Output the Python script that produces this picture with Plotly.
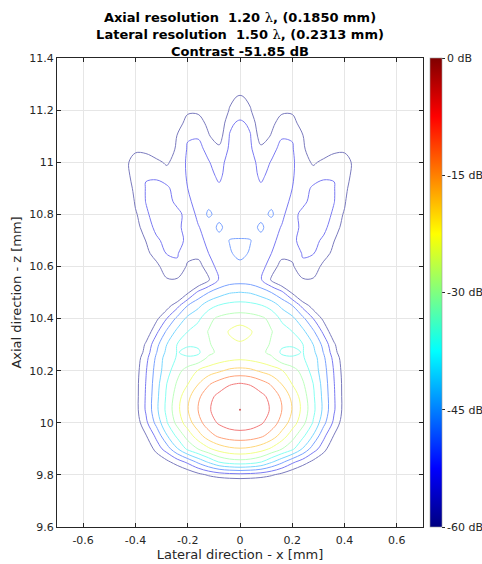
import numpy as np
import plotly.graph_objects as go

# Lateral sample positions (mm) for the right half; the field is mirrored about x = 0
x_half = [0.0, 0.04, 0.08, 0.12, 0.16, 0.20, 0.24, 0.28, 0.32, 0.36, 0.40, 0.44, 0.48]

# Axial sample positions (mm)
z_rows = [9.70, 9.75, 9.80, 9.85, 9.90, 9.95, 10.00, 10.05, 10.10, 10.15, 10.20,
          10.25, 10.27, 10.30, 10.35, 10.40, 10.45, 10.50, 10.55, 10.60, 10.65,
          10.70, 10.75, 10.80, 10.85, 10.90, 10.95, 11.00, 11.05, 11.10, 11.15,
          11.20, 11.25, 11.30]

# Normalised beam amplitude in dB, one row per axial position (right half)
db_half = [
    [-70, -70, -70, -70, -70, -70, -70, -70, -70, -70, -70, -70, -70],
    [-70, -70, -70, -70, -70, -70, -70, -70, -70, -70, -70, -70, -70],
    [-56, -56.5, -57.5, -59.3, -62, -65, -68, -70, -70, -70, -70, -70, -70],
    [-32.2, -33, -35.5, -41, -46.5, -52.5, -57, -61.5, -66, -70, -70, -70, -70],
    [-18.5, -19.2, -21.3, -25, -29.8, -34.5, -42.5, -51, -57.5, -66, -70, -70, -70],
    [-8.5, -9.0, -10.8, -14.5, -20.5, -27.5, -34.5, -42.5, -52.5, -60.5, -68, -70, -70],
    [-2.5, -3.2, -5.2, -8.8, -14.2, -20.8, -28, -36.5, -46.2, -55.5, -64, -70, -70],
    [-0.1, -0.8, -3.0, -6.75, -11.8, -18.3, -25.7, -34.4, -43.5, -53.3, -62.5, -70, -70],
    [-1.1, -1.9, -4.3, -7.8, -13.2, -19.6, -26.8, -35, -43.8, -53.4, -62.5, -70, -70],
    [-5.7, -6.6, -9.3, -12.8, -18.3, -24.3, -29.2, -36, -44.5, -53.8, -62.5, -70, -70],
    [-16, -16.7, -19, -21.2, -23.6, -27.5, -32, -38.5, -45.5, -54.5, -63, -70, -70],
    [-25.5, -26.2, -27.3, -29, -34.5, -35.5, -35.5, -39, -47, -56, -64, -70, -70],
    [-26.5, -27, -28.7, -31.5, -37, -37.2, -35.7, -40.5, -48.3, -57.5, -66, -70, -70],
    [-25, -25.5, -27.5, -30.7, -35, -35.5, -35.8, -42, -49.8, -59, -67, -70, -70],
    [-21, -23.4, -27.5, -29.7, -33, -36, -40.5, -47, -55.5, -64.5, -70, -70, -70],
    [-27, -27.5, -28.8, -31.5, -37.3, -40.5, -46.5, -54, -61.5, -70, -70, -70, -70],
    [-33.7, -34.2, -35.6, -38.5, -43.5, -48, -56, -63, -70, -70, -70, -70, -70],
    [-41.8, -42.5, -45, -48, -52.5, -61, -70, -70, -70, -70, -70, -70, -70],
    [-51, -51.5, -53.5, -61, -68, -66, -60.5, -60.5, -68, -70, -70, -70, -70],
    [-49.5, -51, -52.5, -56, -63, -61, -55, -56, -62, -70, -70, -70, -70],
    [-46.5, -48.6, -51.5, -54, -57.5, -58, -53.5, -53.8, -57, -62, -70, -70, -70],
    [-47.5, -47.8, -50.5, -52.8, -55.5, -55, -52.5, -52.3, -55, -59.8, -66, -70, -70],
    [-51, -51, -46.5, -52, -54.3, -56.5, -52.5, -51.5, -52.5, -57, -62.5, -70, -70],
    [-51, -51, -50.5, -46.8, -53, -56.5, -52, -51, -51.5, -55, -61, -70, -70],
    [-51, -51, -51, -50, -52, -55, -55.8, -51.5, -51.5, -53.8, -58.8, -70, -70],
    [-51, -51.5, -53.2, -52.5, -52, -54, -56.5, -53, -51.8, -53.8, -57.5, -66, -70],
    [-51, -51.8, -55, -52.5, -52, -53.5, -56.5, -57, -55.2, -54.2, -56.5, -63, -70],
    [-51.5, -52.5, -55.5, -53.8, -52.5, -53.2, -57, -61, -58.5, -57, -57.5, -61.5, -70],
    [-52, -53.2, -58.5, -55, -53, -53.5, -58.5, -65, -64, -61.5, -61, -64, -70],
    [-52.5, -53.8, -63, -59.5, -54.3, -54.4, -59.5, -70, -70, -70, -70, -70, -70],
    [-53.2, -54.8, -66, -61.5, -57.5, -57.5, -63, -70, -70, -70, -70, -70, -70],
    [-56.5, -59.3, -70, -67, -61.2, -61.2, -70, -70, -70, -70, -70, -70, -70],
    [-58.5, -62.5, -70, -70, -70, -70, -70, -70, -70, -70, -70, -70, -70],
    [-70, -70, -70, -70, -70, -70, -70, -70, -70, -70, -70, -70, -70],
]

# Contour levels and colour axis (dB)
level_min, level_max, level_step = -60, 0, 6
cbar_vals = [-60, -45, -30, -15, 0]
cbar_text = ["-60 dB", "-45 dB", "-30 dB", "-15 dB", "0 dB"]

x_ticks = [-0.6, -0.4, -0.2, 0, 0.2, 0.4, 0.6]
x_tick_text = ["-0.6", "-0.4", "-0.2", "0", "0.2", "0.4", "0.6"]
z_ticks = [9.6, 9.8, 10.0, 10.2, 10.4, 10.6, 10.8, 11.0, 11.2, 11.4]
z_tick_text = ["9.6", "9.8", "10", "10.2", "10.4", "10.6", "10.8", "11", "11.2", "11.4"]

title_lines = [
    "Axial resolution \u00a01.20 {lam}, (0.1850 mm)",
    "Lateral resolution \u00a01.50 {lam}, (0.2313 mm)",
    "Contrast -51.85 dB",
]

# Mirror the half field to cover the full lateral aperture
x_full = [-v for v in x_half[:0:-1]] + x_half
db_full = np.array([row[:0:-1] + row for row in db_half], dtype=float)

# MATLAB-style jet colour map
jet_stops = [(0.0, (0, 0, 0.5)), (0.125, (0, 0, 1)), (0.375, (0, 1, 1)),
             (0.625, (1, 1, 0)), (0.875, (1, 0, 0)), (1.0, (0.5, 0, 0))]


def to_scale(stops, wash=0.0):
    out = []
    for pos, (r, g, b) in stops:
        r, g, b = [c * (1 - wash) + wash for c in (r, g, b)]
        out.append([pos, f"rgb({round(r*255)},{round(g*255)},{round(b*255)})"])
    return out


jet = to_scale(jet_stops)
jet_lines = to_scale(jet_stops, wash=0.48)

# Plot area in pixels
PL, PR, PT, PB = 57, 423, 58, 527
W, H = 482, 564

fig = go.Figure()

fig.add_trace(go.Contour(
    x=x_full, y=z_rows, z=db_full,
    zmin=level_min, zmax=level_max,
    autocontour=False,
    contours=dict(start=level_min, end=level_max, size=level_step, coloring="lines"),
    colorscale=jet_lines,
    line=dict(width=1, smoothing=1.0),
    showscale=False,
    hoverinfo="skip",
))

# Peak of the beam
iz, ix = np.unravel_index(np.argmax(db_full), db_full.shape)
fig.add_trace(go.Scatter(
    x=[x_full[ix]], y=[z_rows[iz]], mode="markers",
    marker=dict(size=2, color="rgb(210,90,90)"),
    hoverinfo="skip", showlegend=False,
))

# Colour bar
fig.add_trace(go.Scatter(
    x=[None], y=[None], mode="markers",
    marker=dict(color=[level_min], cmin=level_min, cmax=level_max, colorscale=jet,
                showscale=True,
                colorbar=dict(
                    x=(430 - PL) / (PR - PL), xanchor="left", xpad=0,
                    y=0.5, yanchor="middle", ypad=0, len=1, lenmode="fraction",
                    thickness=12, outlinewidth=0.6, outlinecolor="#9a9a9a",
                    tickvals=cbar_vals, ticktext=cbar_text,
                    ticks="outside", ticklen=3, tickcolor="#262626",
                    tickfont=dict(family="DejaVu Sans", size=11, color="#262626"),
                )),
    hoverinfo="skip", showlegend=False,
))

lam = '<span style="font-family:DejaVu Serif;font-weight:normal">\u03bb</span>'
title_text = "<br>".join(t.format(lam=lam) for t in title_lines)

axis_common = dict(
    showgrid=True, gridcolor="#e6e6e6", gridwidth=1,
    showline=True, linecolor="#262626", linewidth=1, mirror="ticks",
    ticks="inside", ticklen=4, tickcolor="#262626",
    tickfont=dict(family="DejaVu Sans", size=11, color="#262626"),
    zeroline=False, automargin=False,
)

fig.update_layout(
    width=W, height=H,
    margin=dict(l=PL, r=W - PR, t=PT, b=H - PB, autoexpand=False),
    paper_bgcolor="white", plot_bgcolor="white",
    showlegend=False,
    font=dict(family="DejaVu Sans", color="#262626"),
    title=dict(
        text=title_text, x=(PL + PR) / 2 / W, xanchor="center",
        yref="container", y=1 - 22 / H, yanchor="middle",
        font=dict(family="DejaVu Sans", size=13, color="black", weight="bold"),
    ),
    xaxis=dict(
        range=[-0.7, 0.7], tickvals=x_ticks, ticktext=x_tick_text,
        title=dict(text="Lateral direction - x [mm]", standoff=3,
                   font=dict(family="DejaVu Sans", size=13, color="#262626")),
        ticklabelstandoff=3,
        **axis_common,
    ),
    yaxis=dict(
        range=[9.6, 11.4], tickvals=z_ticks, ticktext=z_tick_text,
        title=dict(text="Axial direction - z [mm]", standoff=4,
                   font=dict(family="DejaVu Sans", size=13, color="#262626")),
        **axis_common,
    ),
)

fig.write_html("out.html")
